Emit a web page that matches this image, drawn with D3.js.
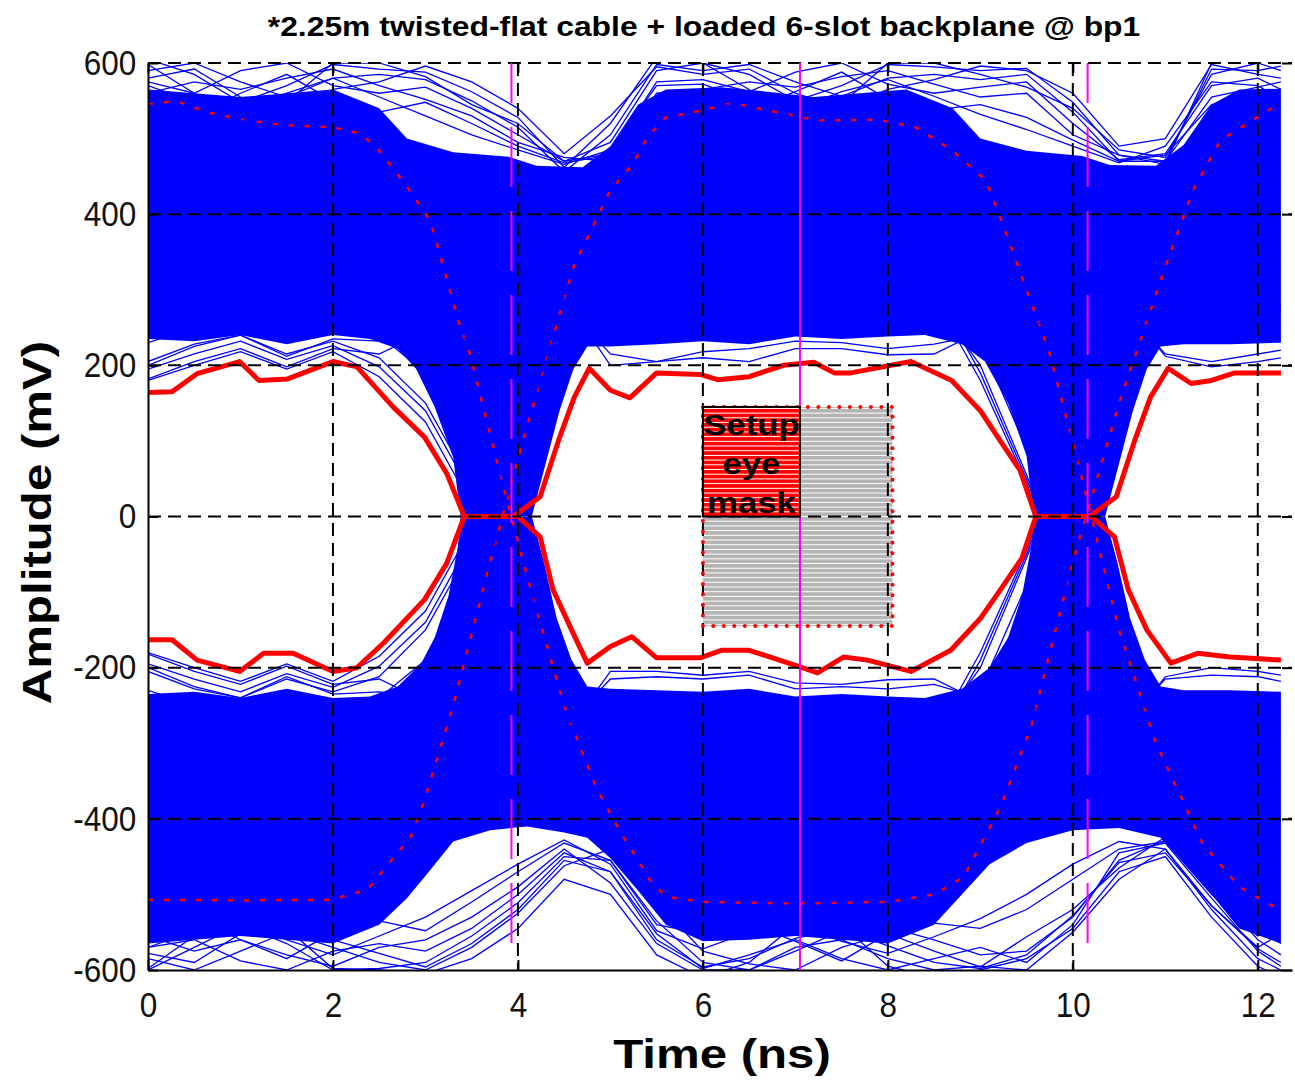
<!DOCTYPE html>
<html>
<head>
<meta charset="utf-8">
<script src="https://cdn.jsdelivr.net/npm/d3@7"></script>
<style>
  body { margin: 0; background: #fff; }
  svg { display: block; }
</style>
</head>
<body>
<svg id="chart" width="1295" height="1085"></svg>
<script>
// ---- data (time in ns, amplitude in mV) ----
const xTicks = [0, 2, 4, 6, 8, 10, 12];
const yTicks = [-600, -400, -200, 0, 200, 400, 600];
const tMax = 12.37;

const titleText = "*2.25m twisted-flat cable + loaded 6-slot backplane @ bp1";
const xLabel = "Time (ns)";
const yLabel = "Amplitude (mV)";
const maskWords = ["Setup", "eye", "mask"];

// strobe markers (magenta) and the setup/hold mask
const strobeTimes = [3.93, 10.16];
const strobeBottom = -583;
const setupTime = 7.05;
const maskTimes = [6.0, 8.05];
const maskLevels = [-145, 145];

// dense part of the trace cloud: outline [t, mV]
const upperBandTop = [[0,565],[0.5,560],[1.0,555],[1.5,560],[2.0,565],[2.5,540],[2.8,500],[3.3,482],[3.9,476],[4.2,464],[4.7,462],[5.0,490],[5.3,545],[5.6,565],[6.2,568],[6.7,562],[7.2,555],[7.7,560],[8.2,565],[8.7,540],[9.0,500],[9.5,484],[10.1,477],[10.4,465],[10.9,464],[11.2,492],[11.5,545],[11.8,565],[12.25,566]];
const upperBandBottom = [[0,235],[0.5,232],[1.0,240],[1.5,228],[2.0,240],[2.4,235],[2.7,222],[2.9,195],[3.1,145],[3.3,78],[3.38,0],[4.15,0],[4.3,70],[4.45,140],[4.6,195],[4.75,225],[5.0,225],[5.5,228],[6.0,232],[6.5,228],[7.0,238],[7.5,235],[8.0,238],[8.4,240],[8.8,228],[9.05,205],[9.3,150],[9.5,80],[9.58,0],[10.35,0],[10.5,70],[10.65,140],[10.8,195],[10.95,225],[11.2,228],[11.7,228],[12.25,230]];
const lowerBandTop = [[0,-235],[0.5,-232],[1.0,-240],[1.5,-228],[2.0,-240],[2.4,-238],[2.7,-225],[2.95,-195],[3.1,-160],[3.25,-105],[3.35,-40],[3.38,0],[4.15,0],[4.28,-60],[4.42,-135],[4.58,-190],[4.75,-225],[5.0,-228],[5.5,-230],[6.0,-232],[6.5,-228],[7.0,-238],[7.5,-235],[8.0,-238],[8.4,-240],[8.8,-228],[9.1,-200],[9.3,-160],[9.45,-105],[9.55,-40],[9.58,0],[10.35,0],[10.48,-60],[10.62,-135],[10.78,-190],[10.95,-225],[11.2,-230],[11.7,-230],[12.25,-232]];
const lowerBandBottom = [[0,-565],[0.5,-560],[1.0,-555],[1.5,-560],[2.0,-565],[2.5,-540],[2.8,-505],[3.05,-468],[3.3,-430],[3.7,-415],[4.1,-410],[4.5,-418],[4.75,-425],[5.0,-452],[5.3,-495],[5.6,-540],[6.0,-562],[6.5,-560],[7.0,-555],[7.5,-560],[8.0,-565],[8.5,-540],[8.8,-500],[9.1,-460],[9.5,-432],[10.0,-415],[10.5,-412],[10.95,-425],[11.2,-458],[11.5,-500],[11.8,-545],[12.25,-565]];

// individual traces at the edges of the cloud, sampled on traceTimes
const traceTimes = [0,0.5,1,1.5,2,2.5,3,3.5,4,4.5,5,5.5,6,6.5,7,7.5,8,8.5,9,9.5,10,10.5,11,11.5,12,12.25];
const highTraces = [
  [605,585,548,570,598,592,588,562,528,462,520,608,600,585,550,570,598,595,590,593,548,478,466,600,605,600],
  [590,600,575,555,580,585,578,550,515,456,505,598,590,598,575,556,580,585,578,585,535,470,470,592,590,596],
  [575,560,590,600,570,560,568,540,505,470,480,575,578,562,588,600,572,560,568,575,520,472,480,570,580,565],
  [560,575,565,580,592,570,552,530,495,475,470,560,565,575,568,582,590,572,555,560,505,478,470,555,568,575],
  [598,560,522,548,600,600,582,545,520,470,495,590,600,565,525,546,600,600,585,568,540,485,475,585,600,590],
  [580,592,555,540,565,575,596,575,540,480,530,595,585,592,560,540,565,578,596,590,560,490,500,598,585,580],
  [545,530,560,585,550,535,548,520,490,468,478,548,552,538,562,588,552,538,545,528,498,470,478,545,555,540],
  [570,548,535,560,580,555,530,505,485,466,485,570,572,550,538,562,578,556,532,512,490,468,490,575,570,552]
];
const lowTraces = [
  [-600,-570,-540,-565,-600,-598,-590,-555,-511,-450,-455,-535,-590,-600,-575,-548,-543,-560,-580,-575,-530,-455,-428,-490,-560,-580],
  [-585,-600,-575,-550,-570,-590,-600,-570,-525,-462,-440,-510,-575,-592,-600,-570,-552,-575,-596,-556,-520,-465,-424,-470,-545,-565],
  [-570,-560,-588,-600,-575,-565,-575,-545,-500,-445,-470,-552,-598,-580,-560,-585,-600,-585,-570,-590,-540,-445,-432,-505,-575,-595],
  [-555,-575,-560,-580,-595,-570,-560,-530,-490,-440,-485,-565,-600,-600,-570,-560,-585,-600,-595,-600,-550,-480,-440,-520,-585,-600],
  [-598,-555,-520,-545,-598,-600,-605,-585,-545,-480,-500,-580,-610,-590,-540,-540,-595,-610,-600,-585,-545,-470,-450,-530,-595,-610],
  [-578,-590,-552,-538,-560,-578,-596,-565,-520,-455,-470,-560,-596,-585,-558,-545,-568,-590,-598,-580,-528,-458,-445,-515,-572,-590],
  [-545,-530,-560,-585,-550,-535,-548,-510,-470,-432,-455,-540,-552,-538,-562,-588,-552,-538,-545,-520,-480,-440,-430,-500,-555,-540],
  [-570,-548,-535,-560,-580,-555,-530,-495,-460,-428,-460,-548,-572,-550,-538,-562,-578,-556,-532,-500,-460,-430,-440,-515,-570,-552]
];
const edgeTraces = [
  [200,225,240,215,232,210,150,40,-110,-250,-300,-290,-300,-310,-295,-300,-310,-285,-200,-55,100,240,285,290,285,280],
  [-200,-225,-240,-215,-232,-212,-150,-40,110,250,300,290,300,310,295,300,310,285,200,55,-100,-240,-285,-290,-285,-280],
  [230,250,262,240,255,240,190,80,-60,-210,-290,-320,-330,-315,-320,-330,-320,-300,-230,-90,60,200,260,275,262,255],
  [-230,-250,-262,-240,-255,-240,-190,-80,60,210,290,320,330,315,320,330,320,300,230,90,-60,-200,-260,-275,-262,-255],
  [205,228,240,212,235,232,240,235,250,280,215,205,218,222,232,230,222,228,240,240,250,280,215,205,215,220],
  [-205,-228,-240,-212,-235,-232,-240,-235,-250,-280,-215,-212,-215,-210,-228,-225,-228,-222,-240,-240,-250,-280,-215,-210,-212,-218],
  [180,200,218,195,218,185,125,15,-130,-265,-310,-305,-300,-295,-305,-310,-300,-290,-180,-45,120,230,270,280,270,265],
  [-180,-200,-218,-195,-218,-185,-125,-15,130,265,310,305,300,295,305,310,300,290,180,45,-120,-230,-270,-280,-270,-265],
  [182,205,222,198,222,215,245,250,270,290,200,205,210,205,222,222,214,215,245,250,270,288,212,198,205,210],
  [-182,-205,-222,-198,-222,-215,-245,-250,-270,-290,-205,-205,-210,-205,-220,-222,-216,-215,-245,-250,-270,-288,-212,-200,-205,-210],
  [195,215,232,208,226,198,140,30,-120,-258,-305,-300,-310,-305,-300,-305,-310,-300,-190,-50,110,235,278,285,278,272],
  [-195,-215,-232,-208,-226,-198,-140,-30,120,258,305,300,310,305,300,305,310,300,190,50,-110,-235,-278,-285,-278,-272]
];

// outer (worst-case) envelope, mostly hidden under the traces
const outerRedA = [[0,545],[0.3,550],[0.64,535],[1.07,524],[1.46,518],[2.0,515],[2.29,507],[2.47,489],[2.78,440],[3.05,392],[3.38,250],[3.48,216],[3.8,60],[4.1,-80],[4.5,-250],[4.85,-360],[5.14,-424],[5.43,-481],[5.6,-503],[6.0,-510],[7.0,-512],[8.0,-510],[8.5,-500],[8.82,-477],[9.22,-384],[9.55,-278],[10.0,-60],[10.5,150],[11.0,330],[11.3,432],[11.6,498],[12.15,540],[12.25,545]];
const outerRedB = [[0,-507],[1.0,-508],[1.97,-507],[2.37,-494],[2.84,-424],[2.98,-379],[3.3,-250],[3.7,-60],[4.1,120],[4.6,330],[5.0,432],[5.25,467],[5.4,502],[5.6,528],[5.9,535],[6.33,547],[6.87,533],[7.24,524],[7.9,525],[8.3,515],[8.69,485],[9.06,445],[9.2,401],[9.75,216],[10.1,50],[10.5,-150],[10.9,-300],[11.4,-432],[11.8,-490],[12.17,-516],[12.25,-518]];

// inner eye opening (thick red)
const eyeUpper = [[0,164],[0.26,165],[0.53,189],[0.99,205],[1.2,180],[1.51,182],[2.0,205],[2.26,198],[2.65,145],[2.99,105],[3.23,57],[3.42,0],[3.95,0],[4.24,26],[4.44,101],[4.61,158],[4.77,196],[5.0,167],[5.21,157],[5.5,190],[5.97,188],[6.16,181],[6.5,185],[6.87,200],[7.2,204],[7.42,190],[7.6,190],[8.25,205],[8.69,180],[9.0,140],[9.21,101],[9.43,61],[9.6,0],[10.18,0],[10.47,26],[10.67,101],[10.84,158],[11.03,196],[11.28,176],[11.5,180],[11.75,190],[12.25,190]];
const eyeLower = [[0,-163],[0.26,-163],[0.53,-190],[0.99,-205],[1.25,-181],[1.57,-181],[2.0,-205],[2.26,-200],[2.55,-167],[2.99,-110],[3.23,-62],[3.42,0],[4.0,0],[4.24,-27],[4.38,-97],[4.58,-150],[4.75,-194],[5.0,-172],[5.23,-159],[5.5,-187],[5.97,-187],[6.2,-177],[6.5,-177],[7.05,-199],[7.24,-207],[7.52,-186],[7.78,-190],[8.25,-205],[8.68,-177],[9.0,-135],[9.2,-100],[9.45,-55],[9.6,0],[10.2,0],[10.45,-27],[10.6,-97],[10.8,-150],[11.06,-194],[11.35,-181],[11.7,-186],[12.25,-190]];

// ---- drawing ----
const FONT = "'Liberation Sans', Arial, Helvetica, sans-serif";
const svg = d3.select("#chart");

const x = d3.scaleLinear().domain([0, tMax]).range([148, 1292]);
const y = d3.scaleLinear().domain([-600, 600]).range([970, 63]);

const defs = svg.append("defs");
defs.append("clipPath").attr("id", "plot-clip")
  .append("rect")
  .attr("x", x(0)).attr("y", y(600))
  .attr("width", x(tMax) - x(0)).attr("height", y(-600) - y(600));

// striped fills of the mask
function hatch(id, color) {
  const p = defs.append("pattern").attr("id", id)
    .attr("patternUnits", "userSpaceOnUse")
    .attr("width", 8).attr("height", 4.7);
  p.append("rect").attr("width", 8).attr("height", 4.7).attr("fill", color);
  p.append("rect").attr("y", 3.7).attr("width", 8).attr("height", 1).attr("fill", "#fff");
}
hatch("hatch-grey", "#b4b4b4");
hatch("hatch-red", "#ff0000");

const plot = svg.append("g").attr("clip-path", "url(#plot-clip)");
const pts = d3.line().x(d => x(d[0])).y(d => y(d[1]));
const band = (top, bottom) => pts(top.concat(bottom.slice().reverse())) + "Z";

// dense trace cloud
plot.append("path").attr("d", band(upperBandTop, upperBandBottom)).attr("fill", "#0000ff");
plot.append("path").attr("d", band(lowerBandTop, lowerBandBottom)).attr("fill", "#0000ff");

// outer envelope peeking through
plot.append("g").selectAll("path")
  .data([outerRedA, outerRedB])
  .join("path")
  .attr("d", pts)
  .attr("fill", "none")
  .attr("stroke", "#ff0000")
  .attr("stroke-width", 2.5)
  .attr("stroke-dasharray", "5,11");

// single traces
const traceLine = d3.line().x((d, i) => x(traceTimes[i])).y(d => y(d));
plot.append("g").selectAll("path")
  .data(highTraces.concat(lowTraces, edgeTraces))
  .join("path")
  .attr("d", traceLine)
  .attr("fill", "none")
  .attr("stroke", "#0000ff")
  .attr("stroke-width", 1.3);

// mask body (under the grid)
const [m0, m1] = maskTimes;
const [mLo, mHi] = maskLevels;
svg.append("rect")
  .attr("x", x(m0)).attr("y", y(mHi))
  .attr("width", x(m1) - x(m0)).attr("height", y(mLo) - y(mHi))
  .attr("fill", "url(#hatch-grey)");

// grid
const grid = svg.append("g")
  .attr("stroke", "#000").attr("stroke-width", 2).attr("stroke-dasharray", "13,7");
grid.selectAll(null).data(xTicks.filter(t => t > 0)).join("line")
  .attr("x1", d => x(d)).attr("x2", d => x(d))
  .attr("y1", y(600)).attr("y2", y(-600));
grid.selectAll(null).data(yTicks.filter(v => v > -600)).join("line")
  .attr("x1", x(0)).attr("x2", x(tMax))
  .attr("y1", d => y(d)).attr("y2", d => y(d));

// axes
const yAxis = svg.append("g")
  .attr("transform", `translate(${x(0)},0)`)
  .call(d3.axisLeft(y).tickValues(yTicks).tickFormat(d => String(d))
    .tickSizeInner(-10).tickSizeOuter(0).tickPadding(13));
const xAxis = svg.append("g")
  .attr("transform", `translate(0,${y(-600)})`)
  .call(d3.axisBottom(x).tickValues(xTicks).tickFormat(d => String(d))
    .tickSizeInner(-10).tickSizeOuter(0).tickPadding(22));
svg.append("g")
  .attr("transform", `translate(${x(tMax)},0)`)
  .call(d3.axisRight(y).tickValues(yTicks).tickFormat("").tickSizeInner(-10).tickSizeOuter(0))
  .call(g => g.select(".domain").remove());
svg.append("g")
  .attr("transform", `translate(0,${y(600)})`)
  .call(d3.axisTop(x).tickValues(xTicks).tickFormat("").tickSizeInner(-10).tickSizeOuter(0))
  .call(g => g.select(".domain").remove());

[xAxis, yAxis].forEach(g => {
  g.attr("font-size", 35).attr("font-family", FONT);
  g.select(".domain").attr("stroke", "#000").attr("stroke-width", 2);
  g.selectAll("text").attr("fill", "#111").attr("transform", "scale(0.9,1)");
});
svg.selectAll(".tick line").attr("stroke", "#000").attr("stroke-width", 2);

// eye opening
plot.append("g").selectAll("path")
  .data([eyeUpper, eyeLower])
  .join("path")
  .attr("d", pts)
  .attr("fill", "none")
  .attr("stroke", "#ff0000")
  .attr("stroke-width", 5)
  .attr("stroke-linejoin", "round");

// mask dotted outline
svg.append("rect")
  .attr("x", x(m0)).attr("y", y(mHi))
  .attr("width", x(m1) - x(m0)).attr("height", y(mLo) - y(mHi))
  .attr("fill", "none")
  .attr("stroke", "#ff0000").attr("stroke-width", 4)
  .attr("stroke-linecap", "round").attr("stroke-dasharray", "0,10.5");

// magenta strobe lines
svg.append("g").selectAll("line")
  .data(strobeTimes)
  .join("line")
  .attr("x1", d => x(d)).attr("x2", d => x(d))
  .attr("y1", y(600)).attr("y2", y(strobeBottom))
  .attr("stroke", "#ff00ff").attr("stroke-width", 2)
  .attr("stroke-dasharray", "60,24").attr("stroke-dashoffset", 20);
svg.append("line")
  .attr("x1", x(setupTime)).attr("x2", x(setupTime))
  .attr("y1", y(600)).attr("y2", y(-600))
  .attr("stroke", "#ff00ff").attr("stroke-width", 2);

// setup part of the mask
svg.append("rect")
  .attr("x", x(m0)).attr("y", y(mHi))
  .attr("width", x(setupTime) - x(m0)).attr("height", y(0) - y(mHi))
  .attr("fill", "url(#hatch-red)")
  .attr("stroke", "#000").attr("stroke-width", 2);

const cx = x((m0 + setupTime) / 2);
svg.append("g").selectAll("text")
  .data(maskWords)
  .join("text")
  .attr("transform", (d, i) => `translate(${cx},${y(mHi) + 28 + i * 39}) scale(1.2,1)`)
  .attr("text-anchor", "middle")
  .attr("font-family", FONT).attr("font-weight", "bold").attr("font-size", 29)
  .text(d => d);

// title and axis labels
svg.append("text")
  .attr("transform", "translate(704,36) scale(1.18,1)")
  .attr("text-anchor", "middle")
  .attr("font-family", FONT).attr("font-weight", "bold").attr("font-size", 27)
  .text(titleText);
svg.append("text")
  .attr("transform", `translate(${(x(0) + x(tMax)) / 2 + 2},1068) scale(1.2,1)`)
  .attr("text-anchor", "middle")
  .attr("font-family", FONT).attr("font-weight", "bold").attr("font-size", 41)
  .text(xLabel);
svg.append("text")
  .attr("transform", `translate(51,${(y(600) + y(-600)) / 2 + 6}) rotate(-90) scale(1.2,1)`)
  .attr("text-anchor", "middle")
  .attr("font-family", FONT).attr("font-weight", "bold").attr("font-size", 41)
  .text(yLabel);
</script>
</body>
</html>
